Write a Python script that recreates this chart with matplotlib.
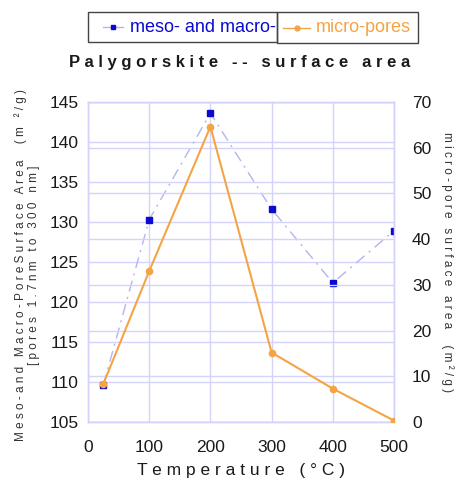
import matplotlib
matplotlib.use("Agg")
import matplotlib.pyplot as plt
from matplotlib.lines import Line2D
from matplotlib.patches import Rectangle

plt.rcParams['font.family'] = ['Liberation Sans', 'DejaVu Sans']

# Data
temperature = [25, 100, 200, 300, 400, 500]
meso_macro_area = [109.6, 130.3, 143.6, 131.6, 122.4, 128.9]
micro_area = [8.3, 33.0, 64.6, 15.2, 7.3, 0.3]

x_ticks = [0, 100, 200, 300, 400, 500]
left_ticks = [105, 110, 115, 120, 125, 130, 135, 140, 145]
right_ticks = [0, 10, 20, 30, 40, 50, 60, 70]

title = "Palygorskite -- surface area"
xlabel = "Temperature (°C)"
ylabel_left = ["Meso-and Macro-PoreSurface Area  (m ²/g)", "[pores 1.7nm to 300 nm]"]
ylabel_right = "micro-pore surface area  (m²/g)"
legend_labels = ["meso- and macro-", "micro-pores"]

BLUE_MARK = "#0a0ad0"
BLUE_LINE = "#b4b4ee"
ORANGE = "#f5a445"
GRID = "#d4d4fa"
TEXT = "#1a1a1a"


def spaced(s, gap=" "):
    return gap.join(s)


W, H = 456, 479
fig = plt.figure(figsize=(W / 100, H / 100), dpi=100)
ax = fig.add_axes([88 / W, 1 - 422 / H, (394 - 88) / W, (422 - 102) / H])
ax2 = ax.twinx()

# grids: left axis every 5, right axis every 10, vertical at each 100
ax.set_xlim(0, 500)
ax.set_ylim(105, 145)
ax2.set_ylim(0, 70)
ax.set_xticks(x_ticks)
ax.set_yticks(left_ticks)
ax2.set_yticks(right_ticks)
ax.grid(True, color=GRID, lw=1.0)
ax2.grid(True, axis='y', color=GRID, lw=1.0)
ax.set_axisbelow(True)
ax2.set_axisbelow(True)

for a in (ax, ax2):
    for sp in a.spines.values():
        sp.set_color(GRID)
        sp.set_linewidth(1.0)

ax.tick_params(axis='x', length=0, pad=13, labelsize=12.5, labelcolor=TEXT)
ax.tick_params(axis='y', length=3, direction='in', color=GRID, pad=7,
               labelsize=12.5, labelcolor=TEXT)
ax2.tick_params(axis='y', length=3, direction='in', color=GRID, pad=13,
                labelsize=12.5, labelcolor=TEXT)

blue, = ax.plot(temperature, meso_macro_area, color=BLUE_LINE, lw=1.0,
                ls=(0, (8, 4, 1.5, 4)), marker='s', ms=4.5,
                mfc=BLUE_MARK, mec=BLUE_MARK, zorder=3)
orange, = ax2.plot(temperature, micro_area, color=ORANGE, lw=1.5,
                   marker='o', ms=4.5, mfc=ORANGE, mec=ORANGE, zorder=4)
ax.set_zorder(2)
ax.patch.set_visible(False)
# keep the orange curve on top of the blue one
ax2.set_zorder(3)
ax2.patch.set_visible(False)

ax.set_xlabel(spaced(xlabel), fontsize=12.5, color=TEXT, labelpad=6)
ax.set_ylabel("\n".join(spaced(s) for s in ylabel_left),
              fontsize=8.5, color="#333333", linespacing=1.15,
              ha='center', va='center')
ax.yaxis.set_label_coords(-(88 - 27) / 306, 0.49)
ax2.set_ylabel(spaced(ylabel_right), fontsize=8.5, color="#333333",
               rotation=270, ha='center', va='center')
ax2.yaxis.set_label_coords((447 - 88) / 306, 0.5)

fig.text(240 / W, 1 - 63 / H, spaced(title), ha='center', va='center',
         fontsize=12, fontweight='bold', color=TEXT)

# legend: two adjacent framed boxes at the top
boxes = [(88, 12, 277, 42), (277, 12, 418, 43)]
handles = [blue, orange]
handle_x = [(103, 123), (283, 310)]
text_x = [130, 316]
for (x0, y0, x1, y1), h, (hx0, hx1), tx, lab in zip(boxes, handles, handle_x, text_x, legend_labels):
    fig.patches.append(Rectangle((x0 / W, 1 - y1 / H), (x1 - x0) / W, (y1 - y0) / H,
                                 transform=fig.transFigure, fill=False,
                                 ec="#444444", lw=1.0))
    yc = 1 - ((y0 + y1) / 2) / H
    fig.lines.append(Line2D([hx0 / W, hx1 / W], [yc, yc], transform=fig.transFigure,
                            color=h.get_color(), lw=1.0, ls='-'))
    fig.lines.append(Line2D([(hx0 + hx1) / 2 / W], [yc], transform=fig.transFigure,
                            marker=h.get_marker(), ms=3.5, mfc=h.get_mfc(),
                            mec=h.get_mec(), ls='none'))
    fig.text(tx / W, yc, lab, ha='left', va='center', fontsize=13,
             color=h.get_mfc())

fig.savefig("out.png", dpi=100)
